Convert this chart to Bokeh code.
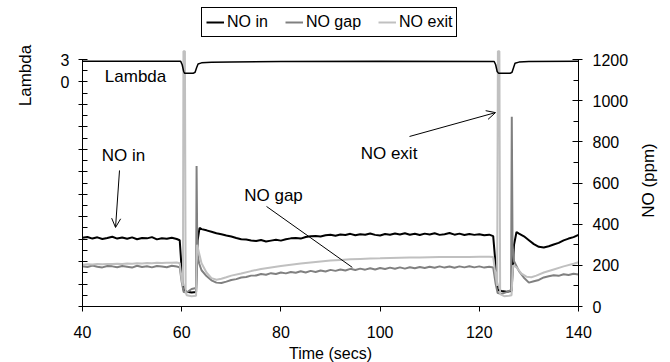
import math
from bokeh.plotting import figure
from bokeh.models import (Range1d, LinearAxis, FixedTicker, CustomJSTickFormatter,
                          Legend, Label, Arrow, OpenHead)
from bokeh.embed import file_html
from bokeh.resources import INLINE

# ---------------- data ----------------
x_ticks = [40, 60, 80, 100, 120, 140]
no_ticks = [0, 200, 400, 600, 800, 1000, 1200]
no_minor = [100, 300, 500, 700, 900, 1100]
lam_ticks = [3, 0, -3, -6, -9, -12, -15, -18, -21, -24, -27, -30]
lam_minor = [1.5, -1.5, -4.5, -7.5, -10.5, -13.5, -16.5, -19.5, -22.5, -25.5, -28.5]

# NO in (ppm)
t_in = [40, 41, 42, 43, 44, 45, 46, 47, 48, 49, 50, 51, 52, 53, 54, 55, 56, 57, 58, 59,
        59.6, 60.0, 60.4, 61, 62, 62.9, 63.2, 63.6,
        64, 65, 66, 67, 68, 69, 70, 71, 72, 73, 74, 75, 76, 77, 78, 79, 80, 81, 82, 83,
        84, 85, 86, 87, 88, 89, 90, 91, 92, 93, 94, 95, 96, 97, 98, 99, 100, 101, 102,
        103, 104, 105, 106, 107, 108, 109, 110, 111, 112, 113, 114, 115, 116, 117, 118,
        119, 120, 121, 122, 122.8, 123.3, 123.7, 124.5, 125.5, 126.5, 127.0, 127.5,
        128, 129, 130, 131, 132, 133, 134, 135, 136, 137, 138, 139, 140]
no_in = [334, 338, 330, 336, 328, 333, 339, 330, 335, 329, 336, 327, 333, 331, 337, 326, 332, 329, 334, 328,
         322, 180, 80, 72, 68, 70, 320, 382,
         376, 370, 363, 356, 351, 345, 340, 333, 327, 325, 321, 318, 323, 316, 320, 324, 320, 327, 331, 333,
         330, 338, 341, 343, 340, 346, 349, 344, 350, 347, 353, 346, 351, 349, 355, 348, 345, 352, 349,
         355, 350, 356, 349, 353, 347, 354, 350, 356, 348, 351, 357, 349, 354, 347, 352,
         348, 351, 346, 349, 342, 200, 80, 75, 72, 75, 300, 362,
         354, 341, 322, 303, 290, 287, 293, 301, 309, 321, 330, 337, 348]

# NO gap (ppm)
t_gap = [40, 41, 42, 43, 44, 45, 46, 47, 48, 49, 50, 51, 52, 53, 54, 55, 56, 57, 58, 59,
         59.6, 60.0, 60.4, 61, 62, 62.9, 63.0, 63.15, 63.5,
         64, 65, 66, 67, 68, 69, 70, 71, 72, 73, 74, 75, 76, 77, 78, 79, 80, 81, 82, 83,
         84, 85, 86, 87, 88, 89, 90, 91, 92, 93, 94, 95, 96, 97, 98, 99, 100, 101, 102,
         103, 104, 105, 106, 107, 108, 109, 110, 111, 112, 113, 114, 115, 116, 117, 118,
         119, 120, 121, 122, 122.8, 123.3, 123.7, 124.5, 125.5, 126.4, 126.55, 126.7, 127,
         128, 129, 130, 131, 132, 133, 134, 135, 136, 137, 138, 139, 140]
no_gap = [196, 192, 199, 193, 190, 197, 195, 191, 197, 193, 189, 198, 192, 196, 190, 197, 194, 191, 198, 194,
          190, 120, 70, 68, 85, 90, 683, 260, 210,
          176, 148, 127, 116, 114, 121, 129, 133, 141, 143, 150, 151, 158, 154, 162, 158, 165, 161, 168, 164,
          171, 165, 173, 168, 175, 170, 178, 173, 180, 175, 183, 177, 184, 179, 186, 180, 187, 182, 189,
          183, 190, 184, 191, 186, 192, 187, 193, 188, 195, 189, 194, 188, 195, 190, 196,
          190, 195, 189, 193, 190, 110, 65, 62, 70, 80, 922, 300, 220,
          172, 140, 116, 123, 129, 141, 147, 152, 149, 157, 153, 159, 156]

# NO exit (ppm)
t_exit = [40, 41, 42, 43, 44, 45, 46, 47, 48, 49, 50, 51, 52, 53, 54, 55, 56, 57, 58, 59,
          59.6, 60.0, 60.25, 60.35, 60.65, 60.8, 61, 62, 62.9, 63.1, 63.5,
          64, 65, 66, 67, 68, 69, 70, 72, 74, 76, 78, 80, 82, 84, 86, 88, 90, 92, 94, 96,
          98, 100, 102, 104, 106, 108, 110, 112, 114, 116, 118, 120, 122,
          122.8, 123.3, 123.6, 123.75, 124.05, 124.2, 125, 126, 126.5, 126.8, 127.5,
          128.5, 129.5, 130.5, 131.5, 133, 135, 137, 139, 140]
no_exit = [203, 205, 204, 206, 205, 207, 206, 208, 207, 209, 208, 210, 209, 211, 210, 212, 211, 213, 212, 214,
           210, 130, 100, 1240, 1240, 70, 55, 50, 52, 300, 260,
           210, 165, 138, 130, 135, 142, 150, 160, 172, 182, 190, 197, 203, 209, 214, 219, 223, 226, 229, 231,
           233, 234, 236, 237, 238, 238, 239, 240, 240, 241, 241, 242, 242,
           240, 150, 100, 1240, 1240, 60, 50, 52, 55, 200, 190,
           160, 145, 142, 150, 165, 180, 195, 208, 215]

# Lambda (left axis units)
t_lam = [40, 50, 59.8, 60.1, 60.4, 60.6, 62.3, 62.7, 63.0, 63.3, 64, 66, 70, 80, 100,
         123.0, 123.3, 123.6, 123.9, 126.2, 126.6, 126.9, 127.2, 128, 130, 140]
lam = [2.78, 2.78, 2.75, 2.3, 1.4, 1.15, 1.15, 1.3, 1.9, 2.4, 2.55, 2.62, 2.68, 2.72, 2.75,
       2.74, 2.3, 1.4, 1.15, 1.15, 1.3, 1.9, 2.5, 2.65, 2.72, 2.75]

FONT = "Liberation Sans"
C_IN, C_GAP, C_EXIT = "#000000", "#808080", "#c0c0c0"

# The frame covers the whole canvas; the axes are pinned (fixed_location) and
# bounded so that 40..140 s, 0..1200 ppm and -30..3 lambda occupy the plot box.
p = figure(width=670, height=362,
           x_range=Range1d(23.468, 158.548), y_range=Range1d(-272.06, 1486.64),
           x_axis_type=None, y_axis_type=None,
           output_backend="svg", toolbar_location=None,
           min_border_left=0, min_border_right=0, min_border_top=0, min_border_bottom=0)
p.extra_y_ranges = {"lam": Range1d(-37.482, 10.883)}
p.outline_line_color = None
p.background_fill_color = "white"
p.border_fill_color = "white"

xax = LinearAxis(fixed_location=0, bounds=(40, 140),
                 ticker=FixedTicker(ticks=x_ticks, minor_ticks=[]))
yax = LinearAxis(fixed_location=140, bounds=(0, 1200),
                 ticker=FixedTicker(ticks=no_ticks, minor_ticks=no_minor))
lax = LinearAxis(fixed_location=40, bounds=(-30, 3), y_range_name="lam",
                 ticker=FixedTicker(ticks=lam_ticks, minor_ticks=lam_minor),
                 formatter=CustomJSTickFormatter(code="return (tick === 3 || tick === 0) ? String(tick) : '';"))
p.add_layout(xax, "below")
p.add_layout(yax, "right")
p.add_layout(lax, "left")

for ax in (xax, yax, lax):
    ax.axis_line_color = "black"
    ax.axis_line_width = 1
    ax.major_tick_line_color = "black"
    ax.minor_tick_line_color = "black"
    ax.major_label_text_font = FONT
    ax.major_label_text_font_size = "16px"
    ax.major_label_text_color = "black"

xax.major_tick_in = 0
xax.major_tick_out = 5
xax.major_label_standoff = 14

yax.major_tick_in = 6
yax.major_tick_out = 4
yax.minor_tick_in = 5
yax.minor_tick_out = 0
yax.major_label_standoff = 10

lax.major_tick_in = 5
lax.major_tick_out = 4
lax.minor_tick_in = 5
lax.minor_tick_out = 0
lax.major_label_standoff = 9

# data lines
r_in = p.line(t_in, no_in, line_color=C_IN, line_width=2)
r_gap = p.line(t_gap, no_gap, line_color=C_GAP, line_width=2)
r_exit = p.line(t_exit, no_exit, line_color=C_EXIT, line_width=2)
p.line(t_lam, lam, y_range_name="lam", line_color="black", line_width=1.5)

legend = Legend(items=[("NO in", [r_in]), ("NO gap", [r_gap]), ("NO exit", [r_exit])],
                orientation="horizontal", location=(201, 325),
                label_text_font=FONT, label_text_font_size="16px", label_text_color="black",
                border_line_color="black", border_line_width=1, border_line_alpha=1,
                padding=4, spacing=17, glyph_width=18, label_standoff=3, margin=0,
                background_fill_color="white", background_fill_alpha=1)
p.add_layout(legend, "center")


def txt(x, y, s, size="17px", angle=0.0):
    p.add_layout(Label(x=x, y=y, text=s, angle=angle, text_align="center",
                       text_baseline="middle", text_font=FONT, text_font_size=size,
                       text_color="black"))

# axis titles
txt(90, -227, "Time (secs)", size="16px")
txt(28.51, 1122, "Lambda", angle=math.pi / 2)
txt(154.2, 612, "NO (ppm)", angle=math.pi / 2)

# annotations in the plot
txt(50.69, 1115, "Lambda")
txt(48.27, 734, "NO in")
txt(78.51, 537, "NO gap")
txt(101.8, 741, "NO exit")

p.add_layout(Arrow(end=OpenHead(size=9, line_width=1, line_color="black"),
                   x_start=47.46, y_start=661, x_end=46.66, y_end=384,
                   line_color="black", line_width=1))
p.add_layout(Arrow(end=None, x_start=77.1, y_start=486, x_end=94.4, y_end=190,
                   line_color="black", line_width=1))
p.add_layout(Arrow(end=OpenHead(size=9, line_width=1, line_color="black"),
                   x_start=105.93, y_start=826, x_end=123.27, y_end=942,
                   line_color="black", line_width=1))

open("out.html", "w").write(file_html(p, INLINE))
